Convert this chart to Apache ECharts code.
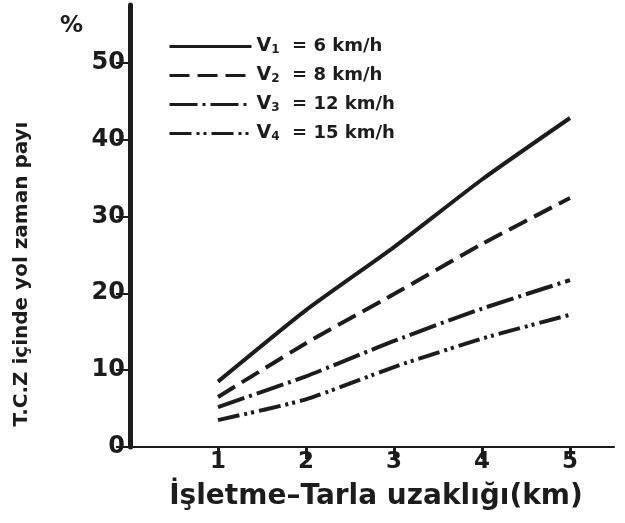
<!DOCTYPE html>
<html>
<head>
<meta charset="utf-8">
<script src="https://cdn.jsdelivr.net/npm/echarts@6/dist/echarts.min.js"></script>
<style>
html,body{margin:0;padding:0;background:#fff;}
#c{width:625px;height:523px;}
</style>
</head>
<body>
<div id="c"></div>
<script>
// distances (km)
var distances = [1, 2, 3, 4, 5];
// T.C.Z içinde yol zaman payı (%)
var v1 = [8.5, 17.8, 26.0, 34.8, 42.8];
var v2 = [6.5, 13.5, 19.9, 26.4, 32.4];
var v3 = [5.2, 9.2, 13.8, 18.0, 21.7];
var v4 = [3.5, 6.2, 10.4, 14.1, 17.2];
var seriesNames = ['V1 = 6 km/h', 'V2 = 8 km/h', 'V3 = 12 km/h', 'V4 = 15 km/h'];
var xTicks = [1, 2, 3, 4, 5];
var yTicks = [0, 10, 20, 30, 40, 50];

function pairs(arr) { return distances.map(function (d, i) { return [d, arr[i]]; }); }

var FONT = '"DejaVu Sans", sans-serif';
var INK = '#1c1c1c';
var dashes = ['solid', [20, 8], [28, 5, 3, 5], [22, 5, 3, 4, 3, 5]];
var allData = [v1, v2, v3, v4];

var chart = echarts.init(document.getElementById('c'), null, {renderer: 'canvas'});
chart.setOption({
  animation: false,
  backgroundColor: '#ffffff',
  grid: {left: 130, right: 11, top: 5, bottom: 76, containLabel: false},
  xAxis: {
    type: 'value', min: 0, max: 5.5, interval: 1,
    axisLine: {show: true, lineStyle: {color: INK, width: 2}},
    axisTick: {show: true, customValues: xTicks, length: 12, lineStyle: {color: INK, width: 3}},
    axisLabel: {customValues: xTicks, color: INK, fontFamily: FONT, fontWeight: 'bold', fontSize: 23, margin: 4},
    splitLine: {show: false}
  },
  yAxis: {
    type: 'value', min: 0, max: 57.5, interval: 10,
    axisLine: {show: true, lineStyle: {color: INK, width: 5}},
    axisTick: {show: true, customValues: yTicks, length: 14, lineStyle: {color: INK, width: 2}},
    axisLabel: {customValues: yTicks, color: INK, fontFamily: FONT, fontWeight: 'bold', fontSize: 24, margin: 5},
    splitLine: {show: false}
  },
  legend: {
    orient: 'vertical', left: 163, top: 32,
    itemWidth: 82, itemHeight: 12, itemGap: 10,
    data: seriesNames,
    itemStyle: {opacity: 0},
    lineStyle: {width: 3},
    formatter: function (name) {
      var parts = name.split(' = ');
      return '{v|V}{s|' + parts[0].slice(1) + '}{t|  = ' + parts[1] + '}';
    },
    textStyle: {
      color: INK, fontFamily: FONT, fontWeight: 'bold', fontSize: 18,
      rich: {
        v: {fontFamily: FONT, fontWeight: 'bold', fontSize: 19, color: INK},
        s: {fontFamily: FONT, fontWeight: 'bold', fontSize: 12, color: INK, verticalAlign: 'bottom', padding: [7, 0, 0, 0]},
        t: {fontFamily: FONT, fontWeight: 'bold', fontSize: 18, color: INK}
      }
    }
  },
  graphic: [
    {type: 'text', left: 60, top: 15, style: {text: '%', fill: INK, font: 'bold 23px ' + FONT}},
    {type: 'text', x: 22, y: 274, rotation: Math.PI / 2,
     style: {text: 'T.C.Z içinde yol zaman payı', fill: INK, font: 'bold 20px ' + FONT, align: 'center', verticalAlign: 'middle'}},
    {type: 'text', x: 376, y: 497,
     style: {text: 'İşletme–Tarla uzaklığı(km)', fill: INK, font: 'bold 28px ' + FONT, align: 'center', verticalAlign: 'middle'}}
  ],
  series: allData.map(function (arr, i) {
    return {
      name: seriesNames[i], type: 'line', data: pairs(arr),
      symbol: 'none', showSymbol: false, smooth: 0.2,
      lineStyle: {color: INK, width: 4, type: dashes[i]},
      itemStyle: {color: INK}
    };
  })
});
</script>
</body>
</html>
